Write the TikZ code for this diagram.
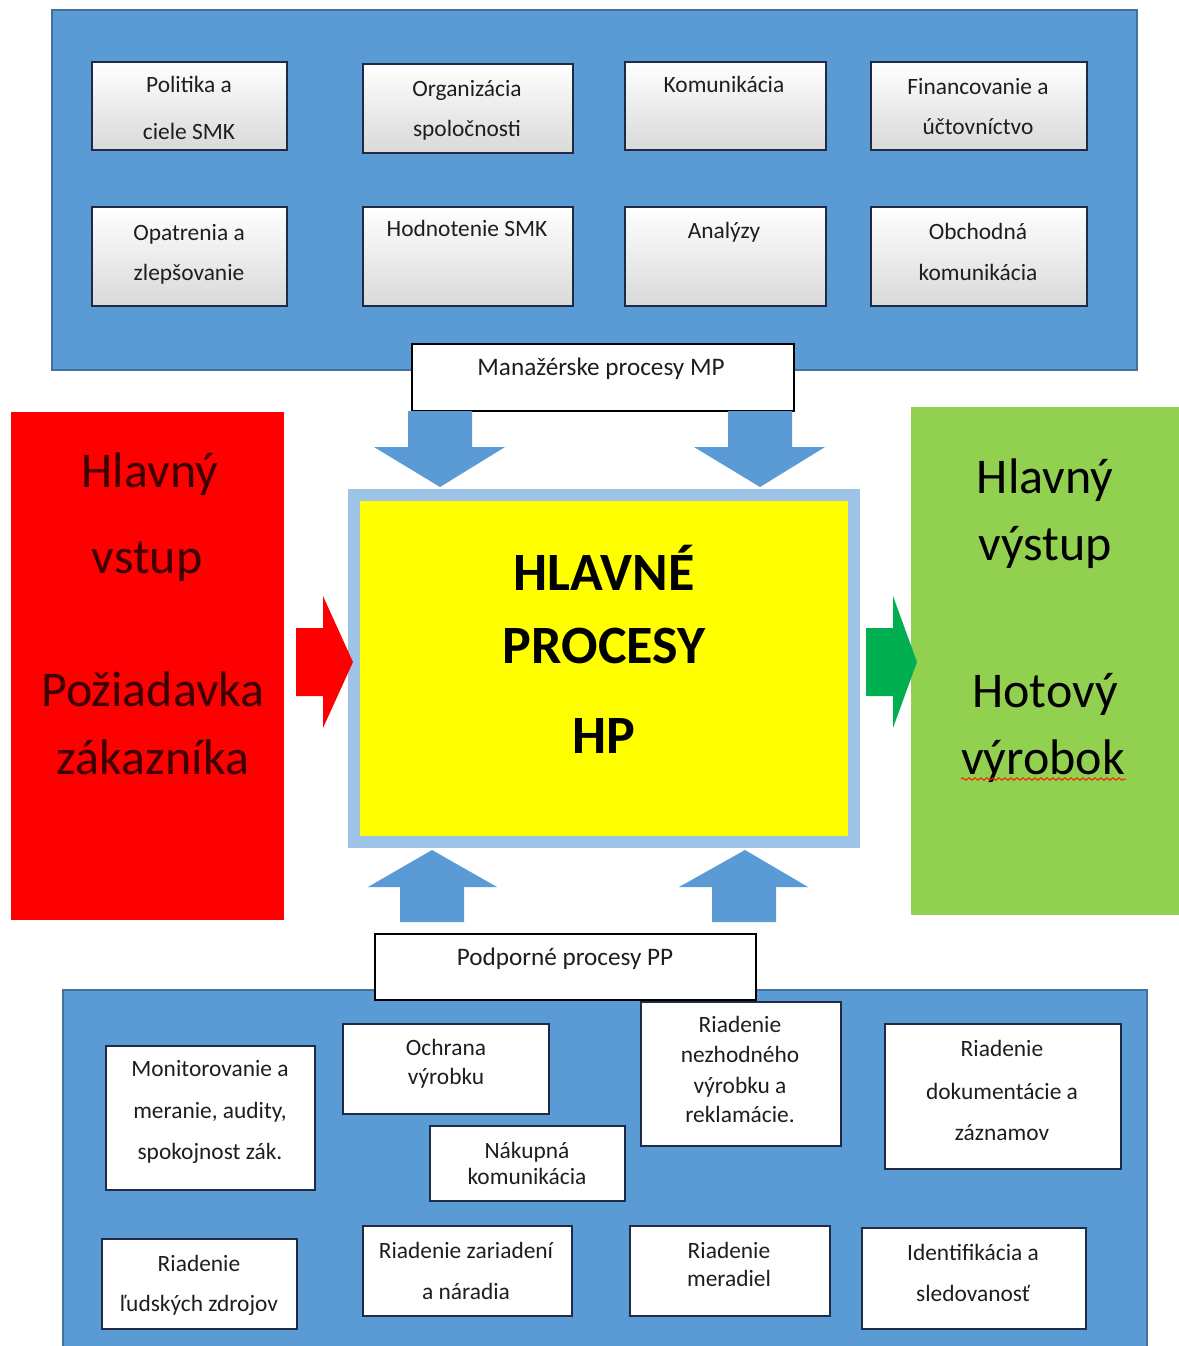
\documentclass[tikz,border=0pt]{standalone}
\usepackage{fontspec}
\setmainfont{Carlito}
\usetikzlibrary{fit,decorations.pathmorphing}
\definecolor{panelblue}{HTML}{5B9BD5}
\definecolor{paneledge}{HTML}{41719C}
\definecolor{boxedge}{HTML}{1F2A44}
\definecolor{inred}{HTML}{FF0000}
\definecolor{intext}{HTML}{3C0000}
\definecolor{outgreen}{HTML}{92D050}
\definecolor{arrowgreen}{HTML}{00B050}
\definecolor{coreyellow}{HTML}{FFFF00}
\definecolor{coreframe}{HTML}{9DC3E6}
\definecolor{txt}{HTML}{1E1E1E}
\tikzset{
  panel/.style={fill=panelblue, draw=paneledge, line width=0.6pt, inner sep=0pt},
  gradbox/.style={draw=boxedge, line width=1pt, inner sep=0pt,
    top color=white, middle color=white, bottom color=black!15},
  plainbox/.style={draw=boxedge, line width=1pt, fill=white, inner sep=0pt},
  tagbox/.style={draw=black, line width=0.9pt, fill=white, inner sep=0pt},
  small/.style={anchor=base, inner sep=0pt, text=txt, font=\fontsize{11.7}{14}\selectfont},
  tag/.style={anchor=base, inner sep=0pt, text=txt, font=\fontsize{12.6}{15}\selectfont},
  big/.style={anchor=base, inner sep=0pt, font=\fontsize{25}{30}\selectfont},
  core/.style={anchor=base, inner sep=0pt, text=black, font=\bfseries\fontsize{27}{32}\selectfont},
  blockarrow/.style={fill=panelblue, draw=none},
}
\begin{document}
\begin{tikzpicture}[x=0.5pt,y=-0.5pt]
\useasboundingbox (0,0) rectangle (1179,1346);
\fill[white] (0,0) rectangle (1179,1346);

% ---------- management processes ----------
\node[panel, fit={(52,10) (1137,370)}] (mp) {};
\node[gradbox, fit={(92,62) (287,150)}]   (m1) {};
\node[gradbox, fit={(363,64) (573,153)}]  (m2) {};
\node[gradbox, fit={(625,62) (826,150)}]  (m3) {};
\node[gradbox, fit={(871,62) (1087,150)}] (m4) {};
\node[gradbox, fit={(92,207) (287,306)}]  (m5) {};
\node[gradbox, fit={(363,207) (573,306)}] (m6) {};
\node[gradbox, fit={(625,207) (826,306)}] (m7) {};
\node[gradbox, fit={(871,207) (1087,306)}] (m8) {};

\node[small] (m1a) at (189,92)  {Politika a};
\node[small] (m1b) at (189,139) {ciele SMK};
\node[small] (m2a) at (467,96)  {Organizácia};
\node[small] (m2b) at (467,136) {spoločnosti};
\node[small] (m3a) at (724,92)  {Komunikácia};
\node[small] (m4a) at (978,94)  {Financovanie a};
\node[small] (m4b) at (978,134) {účtovníctvo};
\node[small] (m5a) at (189,240) {Opatrenia a};
\node[small] (m5b) at (189,280) {zlepšovanie};
\node[small] (m6a) at (467,236) {Hodnotenie SMK};
\node[small] (m7a) at (724,238) {Analýzy};
\node[small] (m8a) at (978,239) {Obchodná};
\node[small] (m8b) at (978,280) {komunikácia};

\node[tagbox, fit={(412,344) (794,411)}] (mptag) {};
\node[tag] (mptxt) at (601,375) {Manažérske procesy MP};

% ---------- arrows from management processes ----------
\path[blockarrow] (408,411) -- (472,411) -- (472,447) -- (505,447) -- (440,487)
  -- (374,447) -- (408,447) -- cycle;
\path[blockarrow] (728,411) -- (792,411) -- (792,447) -- (825,447) -- (760,487)
  -- (694,447) -- (728,447) -- cycle;

% ---------- main processes ----------
\node[fill=coreframe, inner sep=0pt, fit={(348,489) (860,848)}] (coreout) {};
\node[fill=coreyellow, inner sep=0pt, fit={(360,501) (848,836)}] (core) {};
\node[core] (c1) at (604,590) {HLAVNÉ};
\node[core] (c2) at (604,663) {PROCESY};
\node[core] (c3) at (604,753) {HP};

% ---------- main input ----------
\node[fill=inred, inner sep=0pt, fit={(11,412) (284,920)}] (input) {};
\node[big, text=intext] (in1) at (150,487) {Hlavný};
\node[big, text=intext] (in2) at (147,573) {vstup};
\node[big, text=intext] (in3) at (153,706) {Požiadavka};
\node[big, text=intext] (in4) at (153,774) {zákazníka};
\path[fill=inred] (296,628) -- (323,628) -- (323,596) -- (353,662) -- (323,728)
  -- (323,696) -- (296,696) -- cycle;

% ---------- main output ----------
\node[fill=outgreen, inner sep=0pt, fit={(911,407) (1179,915)}] (output) {};
\path[fill=arrowgreen] (866,628) -- (893,628) -- (893,596) -- (917,662) -- (893,728)
  -- (893,696) -- (866,696) -- cycle;
\node[big, text=black] (out1) at (1045,493) {Hlavný};
\node[big, text=black] (out2) at (1045,560) {výstup};
\node[big, text=black] (out3) at (1045,707) {Hotový};
\node[big, text=black] (out4) at (1043,774) {výrobok};
\coordinate (wl) at (961,779);
\coordinate (wr) at (1126,779);
\draw[red!80!orange, line width=0.5pt,
  decorate, decoration={snake, segment length=3pt, amplitude=0.6pt}] (wl) -- (wr);

% ---------- arrows into main processes ----------
\path[blockarrow] (400,922) -- (464,922) -- (464,887) -- (497,887) -- (432,850)
  -- (368,887) -- (400,887) -- cycle;
\path[blockarrow] (712,922) -- (776,922) -- (776,887) -- (808,887) -- (745,850)
  -- (679,887) -- (712,887) -- cycle;

% ---------- support processes ----------
\node[panel, fit={(63,990) (1147,1352)}] (pp) {};
\node[tagbox, fit={(375,934) (756,1000)}] (pptag) {};
\node[tag] (pptxt) at (565,965) {Podporné procesy PP};

\node[plainbox, fit={(106,1046) (315,1190)}]  (s1) {};
\node[plainbox, fit={(343,1024) (549,1114)}]  (s2) {};
\node[plainbox, fit={(430,1126) (625,1201)}]  (s3) {};
\node[plainbox, fit={(641,1002) (841,1146)}]  (s4) {};
\node[plainbox, fit={(885,1024) (1121,1169)}] (s5) {};
\node[plainbox, fit={(102,1239) (297,1329)}]  (s6) {};
\node[plainbox, fit={(363,1226) (572,1316)}]  (s7) {};
\node[plainbox, fit={(630,1226) (830,1316)}]  (s8) {};
\node[plainbox, fit={(862,1228) (1086,1329)}] (s9) {};

\node[small] (s1a) at (210,1076) {Monitorovanie a};
\node[small] (s1b) at (210,1118) {meranie, audity,};
\node[small] (s1c) at (210,1159) {spokojnost zák.};
\node[small] (s2a) at (446,1055) {Ochrana};
\node[small] (s2b) at (446,1084) {výrobku};
\node[small] (s3a) at (527,1158) {Nákupná};
\node[small] (s3b) at (527,1184) {komunikácia};
\node[small] (s4a) at (740,1032) {Riadenie};
\node[small] (s4b) at (740,1062) {nezhodného};
\node[small] (s4c) at (740,1093) {výrobku a};
\node[small] (s4d) at (740,1122) {reklamácie.};
\node[small] (s5a) at (1002,1056) {Riadenie};
\node[small] (s5b) at (1002,1099) {dokumentácie a};
\node[small] (s5c) at (1002,1140) {záznamov};
\node[small] (s6a) at (199,1271) {Riadenie};
\node[small] (s6b) at (199,1311) {ľudských zdrojov};
\node[small] (s7a) at (466,1258) {Riadenie zariadení};
\node[small] (s7b) at (466,1299) {a náradia};
\node[small] (s8a) at (729,1258) {Riadenie};
\node[small] (s8b) at (729,1286) {meradiel};
\node[small] (s9a) at (973,1260) {Identifikácia a};
\node[small] (s9b) at (973,1301) {sledovanosť};
\end{tikzpicture}
\end{document}
